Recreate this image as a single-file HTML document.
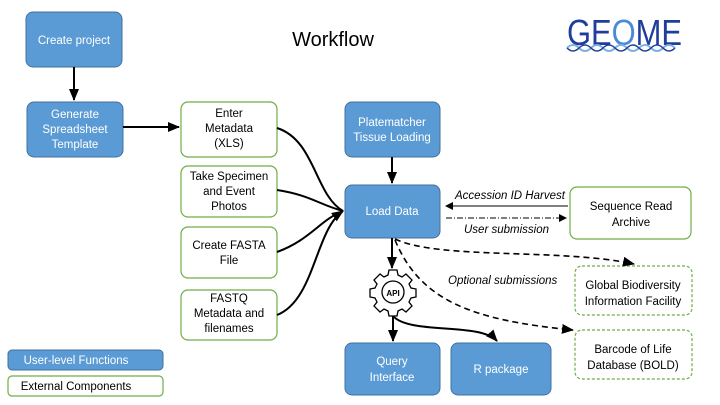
<!DOCTYPE html>
<html><head><style>body{margin:0;background:#fff}svg{display:block}text{font-family:"Liberation Sans",sans-serif}</style></head><body>
<svg width="720" height="405" viewBox="0 0 720 405" xmlns="http://www.w3.org/2000/svg">
<defs>
<marker id="a" markerWidth="8" markerHeight="8" refX="7" refY="4" orient="auto" markerUnits="userSpaceOnUse"><path d="M0,0L8,4L0,8z" fill="#000"/></marker>
<marker id="b" markerWidth="12" markerHeight="10" refX="11" refY="5" orient="auto" markerUnits="userSpaceOnUse"><path d="M0,0L12,5L0,10z" fill="#000"/></marker>
</defs>
<g fill="#5b9bd5" stroke="#41719c" stroke-width="1">
<rect x="26" y="12" width="96" height="55" rx="7"/>
<rect x="27" y="102" width="96" height="55" rx="7"/>
<rect x="345" y="102" width="95" height="55" rx="7"/>
<rect x="345" y="185" width="95" height="53" rx="7"/>
<rect x="345" y="343" width="95" height="52" rx="7"/>
<rect x="451" y="343" width="100" height="52" rx="7"/>
<rect x="8" y="350" width="155" height="20" rx="4"/>
</g>
<g fill="#fff" stroke="#70ad47" stroke-width="1.2">
<rect x="181" y="102" width="96" height="55" rx="7"/>
<rect x="181" y="166" width="96" height="51" rx="7"/>
<rect x="181" y="227" width="96" height="51" rx="7"/>
<rect x="181" y="290" width="96" height="50" rx="7"/>
<rect x="570" y="187" width="121" height="52" rx="7"/>
<rect x="8" y="376" width="155" height="20" rx="4"/>
<rect x="575" y="266" width="117" height="49" rx="7" stroke-dasharray="3,2"/>
<rect x="575" y="330" width="117" height="49" rx="7" stroke-dasharray="3,2"/>
</g>
<g fill="#fff" font-size="11.5" text-anchor="middle">
<text x="74" y="44">Create project</text>
<text x="75" y="118">Generate</text><text x="75" y="133">Spreadsheet</text><text x="75" y="148">Template</text>
<text x="392" y="126">Platematcher</text><text x="392" y="141">Tissue Loading</text>
<text x="392" y="215">Load Data</text>
<text x="392" y="365">Query</text><text x="392" y="381">Interface</text>
<text x="501" y="373">R package</text>
<text x="76" y="364">User-level Functions</text>
</g>
<g fill="#000" font-size="11.5" text-anchor="middle">
<text x="229" y="117">Enter</text><text x="229" y="132">Metadata</text><text x="229" y="147">(XLS)</text>
<text x="229" y="180">Take Specimen</text><text x="229" y="195">and Event</text><text x="229" y="210">Photos</text>
<text x="229" y="249">Create FASTA</text><text x="229" y="264">File</text>
<text x="229" y="302">FASTQ</text><text x="229" y="317">Metadata and</text><text x="229" y="332">filenames</text>
<text x="631" y="210">Sequence Read</text><text x="631" y="226">Archive</text>
<text x="633" y="289">Global Biodiversity</text><text x="633" y="305">Information Facility</text>
<text x="633" y="353">Barcode of Life</text><text x="633" y="369">Database (BOLD)</text>
<text x="76" y="390">External Components</text>
<text x="333" y="46" font-size="20">Workflow</text>
</g>
<g font-size="11.5" font-style="italic" fill="#000">
<text x="455" y="199">Accession ID Harvest</text>
<text x="464" y="233">User submission</text>
<text x="448" y="284">Optional submissions</text>
</g>
<g stroke="#000" stroke-width="2" fill="none">
<line x1="74" y1="67" x2="74" y2="100" marker-end="url(#b)"/>
<line x1="123" y1="127" x2="179" y2="127" marker-end="url(#b)"/>
<line x1="392" y1="157" x2="392" y2="183" marker-end="url(#b)"/>
<path d="M277,128 C315,140 315,195 343,211"/>
<path d="M277,190 C310,195 320,205 343,211"/>
<path d="M277,252 C310,240 320,220 343,211"/>
<path d="M277,315 C315,300 315,230 343,211" marker-end="url(#b)"/>
<line x1="392" y1="238" x2="392" y2="268" marker-end="url(#b)"/>
<line x1="393" y1="314" x2="393" y2="341" marker-end="url(#b)"/>
<path d="M393,316 C410,335 480,322 497,341" marker-end="url(#b)"/>
</g>
<line x1="568" y1="206" x2="446" y2="206" stroke="#000" stroke-width="1" marker-end="url(#a)"/>
<line x1="446" y1="218" x2="566" y2="218" stroke="#000" stroke-width="1" stroke-dasharray="6,2,1,2" marker-end="url(#a)"/>
<g stroke="#000" stroke-width="1.6" fill="none" stroke-dasharray="6,4">
<path d="M395,239 C440,260 560,248 634,264" marker-end="url(#b)"/>
<path d="M395,240 C420,300 470,320 573,330" marker-end="url(#b)"/>
</g>
<g transform="translate(393,292)" stroke="#000" fill="#fff" stroke-width="1.3">
<path d="M-4,-22h8l1,5 4,2 4,-3 6,6 -3,4 2,4 5,1v8l-5,1 -2,4 3,4 -6,6 -4,-3 -4,2 -1,5h-8l-1,-5 -4,-2 -4,3 -6,-6 3,-4 -2,-4 -5,-1v-8l5,-1 2,-4 -3,-4 6,-6 4,3 4,-2z"/>
<circle r="11"/>
<text y="4" font-size="8" font-weight="bold" text-anchor="middle" fill="#000" stroke="none">API</text>
</g>
<text x="567" y="45" font-size="36" fill="#1f3d9a" textLength="115" lengthAdjust="spacingAndGlyphs">GE<tspan fill="#4a8ad8">O</tspan>ME</text>
<path d="M567,48 q6,-6 12,0 t12,0 t12,0 t12,0 t12,0 t12,0 t12,0 t12,0 t12,0" stroke="#7eb0e0" stroke-width="2" fill="none"/>
<path d="M567,48 q6,6 12,0 t12,0 t12,0 t12,0 t12,0 t12,0 t12,0 t12,0 t12,0" stroke="#1f3d9a" stroke-width="1.5" fill="none"/>
</svg>
</body></html>
